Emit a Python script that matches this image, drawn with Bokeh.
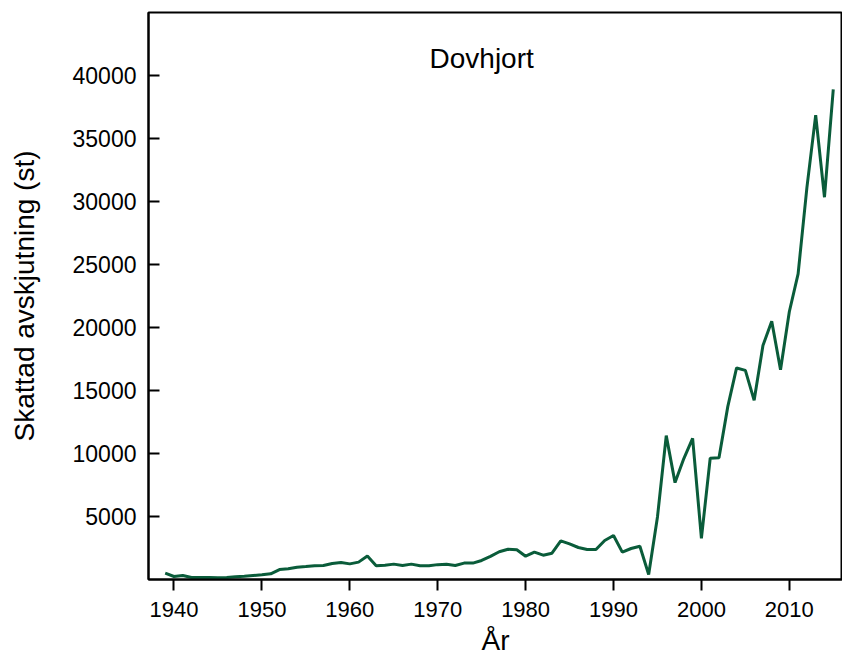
from bokeh.plotting import figure
from bokeh.models import FixedTicker, Range1d, Label
from bokeh.embed import file_html
from bokeh.resources import INLINE

years = list(range(1939, 2016))
values = [
    500, 240, 320, 160, 160, 160, 130, 160, 210, 260,      # 1939-1948
    320, 370, 450, 790, 850, 980, 1030, 1090, 1110, 1270,  # 1949-1958
    1350, 1240, 1380, 1860, 1090, 1140, 1220, 1110, 1220, 1090,  # 1959-1968
    1090, 1180, 1210, 1110, 1300, 1300, 1510, 1830, 2200, 2400,  # 1969-1978
    2360, 1850, 2170, 1930, 2090, 3070, 2830, 2540, 2380, 2380,  # 1979-1988
    3100, 3490, 2170, 2460, 2640, 400, 4960, 11420, 7690, 9600,  # 1989-1998
    11200, 3270, 9620, 9670, 13720, 16790, 16600, 14220, 18570, 20490,  # 1999-2008
    16650, 21250, 24260, 31100, 36850, 30340, 38900,  # 2009-2015
]
x_ticks = [1940, 1950, 1960, 1970, 1980, 1990, 2000, 2010, 2020]
y_ticks = [5000, 10000, 15000, 20000, 25000, 30000, 35000, 40000]
title_text = "Dovhjort"
x_label = "År"
y_label = "Skattad avskjutning (st)"

FONT = "Liberation Sans"

p = figure(width=842, height=665, output_backend="svg", toolbar_location=None,
           x_range=Range1d(1937.1, 2016.05), y_range=Range1d(0, 45000),
           min_border_left=148, min_border_top=12, min_border_bottom=86, min_border_right=0)

p.line(years, values, line_color="#0a5c3a", line_width=3)

p.grid.visible = False
p.outline_line_color = "black"
p.outline_line_width = 2
p.background_fill_color = "white"
p.border_fill_color = "white"

for ax in (p.xaxis[0], p.yaxis[0]):
    ax.axis_line_color = "black"
    ax.axis_line_width = 2
    ax.major_tick_line_color = "black"
    ax.major_tick_line_width = 2
    ax.minor_tick_line_color = None
    ax.major_label_text_font = FONT
    ax.major_label_text_color = "black"
    ax.axis_label_text_font = FONT
    ax.axis_label_text_font_size = "28px"
    ax.axis_label_text_font_style = "normal"
    ax.axis_label_text_color = "black"

p.xaxis.ticker = FixedTicker(ticks=x_ticks)
p.xaxis.major_label_text_font_size = "22px"
p.xaxis.major_tick_in = 0
p.xaxis.major_tick_out = 11
p.xaxis.major_label_standoff = 11
p.xaxis.axis_label = x_label
p.xaxis.axis_label_standoff = 5

p.yaxis.ticker = FixedTicker(ticks=y_ticks)
p.yaxis.major_label_text_font_size = "23px"
p.yaxis.major_tick_in = 11
p.yaxis.major_tick_out = 0
p.yaxis.major_label_standoff = 12
p.yaxis.axis_label = y_label
p.yaxis.axis_label_standoff = 30

title = Label(x=1975, y=41340, text=title_text, text_align="center",
              text_baseline="alphabetic", text_font=FONT, text_font_size="28px",
              text_color="black")
p.add_layout(title)

open("out.html", "w").write(file_html(p, INLINE))
